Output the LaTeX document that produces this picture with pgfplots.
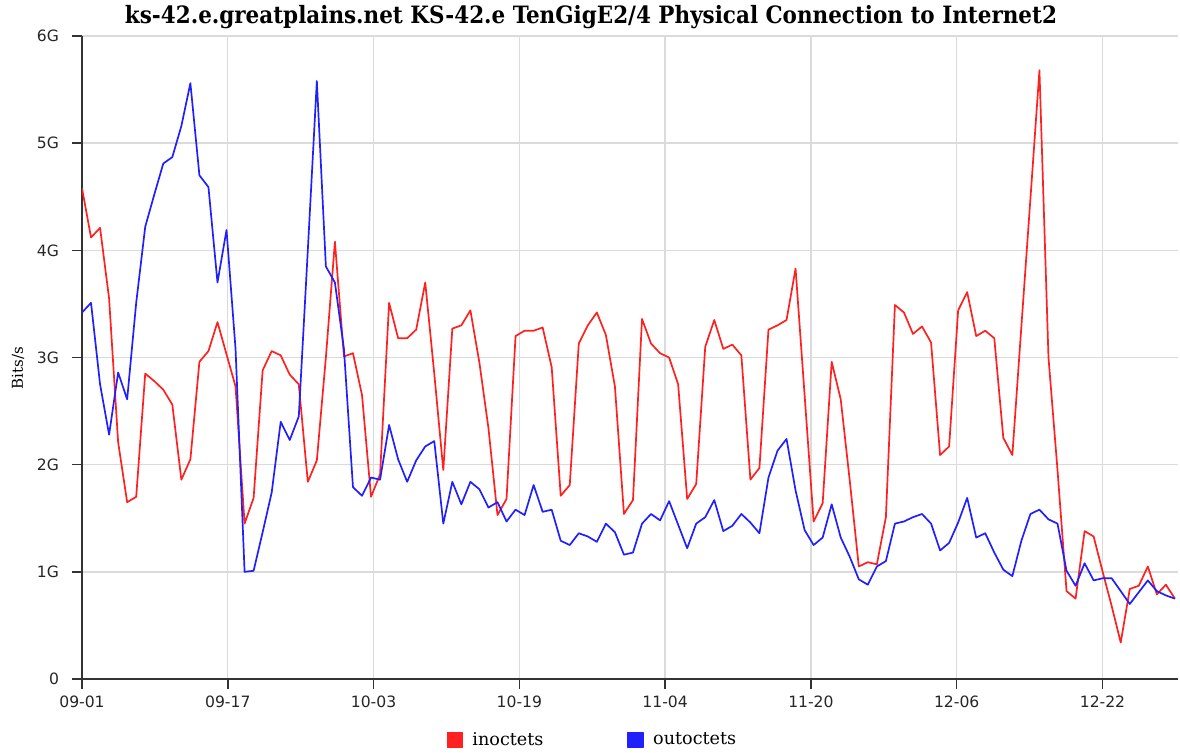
\documentclass[border=0pt]{standalone}
\usepackage{fontspec}
\usepackage{graphicx}
\usepackage{pgfplots}
\pgfplotsset{compat=1.18}
\usepackage{pgfplotstable}
\setmainfont{DejaVu Sans}
\newfontfamily\titlefont{DejaVu Serif Condensed}
\newfontfamily\labfont{DejaVu Serif}
\definecolor{inred}{RGB}{255,32,32}
\definecolor{outblue}{RGB}{32,32,255}

\pgfplotstableread{
d in out
0 4.58 3.42
1 4.12 3.51
2 4.21 2.75
3 3.55 2.28
4 2.21 2.86
5 1.65 2.61
6 1.70 3.51
7 2.85 4.22
8 2.78 4.52
9 2.70 4.81
10 2.56 4.87
11 1.86 5.16
12 2.05 5.56
13 2.96 4.70
14 3.06 4.59
15 3.33 3.70
16 3.03 4.19
17 2.73 3.08
18 1.45 1.00
19 1.69 1.01
20 2.88 1.37
21 3.06 1.74
22 3.02 2.40
23 2.84 2.23
24 2.75 2.45
25 1.84 4.00
26 2.04 5.58
27 3.00 3.85
28 4.08 3.70
29 3.01 3.08
30 3.04 1.79
31 2.65 1.71
32 1.70 1.88
33 1.91 1.86
34 3.51 2.37
35 3.18 2.05
36 3.18 1.84
37 3.26 2.04
38 3.70 2.17
39 2.85 2.22
40 1.95 1.45
41 3.27 1.84
42 3.30 1.63
43 3.44 1.84
44 2.95 1.77
45 2.34 1.60
46 1.53 1.65
47 1.68 1.47
48 3.20 1.58
49 3.25 1.53
50 3.25 1.81
51 3.28 1.56
52 2.91 1.58
53 1.71 1.29
54 1.81 1.25
55 3.13 1.36
56 3.30 1.33
57 3.42 1.28
58 3.21 1.45
59 2.73 1.37
60 1.54 1.16
61 1.67 1.18
62 3.36 1.45
63 3.13 1.54
64 3.04 1.48
65 3.00 1.66
66 2.75 1.44
67 1.68 1.22
68 1.82 1.45
69 3.10 1.51
70 3.35 1.67
71 3.08 1.38
72 3.12 1.43
73 3.02 1.54
74 1.86 1.46
75 1.97 1.36
76 3.26 1.88
77 3.30 2.13
78 3.35 2.24
79 3.83 1.76
80 2.65 1.39
81 1.47 1.25
82 1.64 1.32
83 2.96 1.63
84 2.61 1.32
85 1.85 1.14
86 1.05 0.93
87 1.09 0.88
88 1.07 1.05
89 1.51 1.10
90 3.49 1.45
91 3.42 1.47
92 3.22 1.51
93 3.29 1.54
94 3.14 1.45
95 2.09 1.20
96 2.17 1.27
97 3.44 1.46
98 3.61 1.69
99 3.20 1.32
100 3.25 1.36
101 3.18 1.18
102 2.25 1.02
103 2.09 0.96
104 3.29 1.29
105 4.48 1.54
106 5.68 1.58
107 3.00 1.49
108 1.95 1.45
109 0.82 1.01
110 0.75 0.87
111 1.38 1.08
112 1.33 0.92
113 1.00 0.94
114 0.68 0.94
115 0.34 0.82
116 0.84 0.70
117 0.87 0.81
118 1.05 0.92
119 0.79 0.82
120 0.88 0.78
121 0.75 0.75
}\traffic

\begin{document}
\begin{tikzpicture}
\path[use as bounding box] (-41pt,-36.5pt) rectangle (549pt,339.5pt);
\begin{axis}[
  at={(0,0)}, anchor=south west,
  scale only axis, width=548pt, height=321.5pt,
  xmin=0, xmax=121.34, ymin=0, ymax=6,
  axis x line*=bottom, axis y line*=left,
  axis line style={draw=black!80, line width=0.75pt},
  xtick={0,16.14,32.28,48.42,64.56,80.70,96.84,112.98},
  xticklabels={09-01,09-17,10-03,10-19,11-04,11-20,12-06,12-22},
  ytick={0,1,2,3,4,5,6},
  yticklabels={0,1G,2G,3G,4G,5G,6G},
  /pgf/number format/assume math mode=true,
  tick label style={font=\fontsize{7.8}{9}\selectfont, text=black!85},
  xticklabel style={anchor=center, yshift=-6.5pt},
  yticklabel style={anchor=east, xshift=-3pt},
  grid=major,
  major grid style={draw=black!14, line width=0.7pt},
  tick style={draw=black!80, line width=0.75pt},
  major tick length=5pt,
  tick align=outside,
  legend columns=2,
  legend style={at={(0.4667,-0.095)}, anchor=center, draw=none, fill=none,
    font=\labfont\fontsize{8.8}{10}\selectfont,
    /tikz/every odd column/.append style={column sep=2.5pt},
    /tikz/every even column/.append style={column sep=40pt}},
  legend image code/.code={\fill[#1] (0pt,-3.75pt) rectangle (7.5pt,3.75pt);},
]
\addplot[color=inred, line width=0.85pt, line join=round] table[x=d, y=in] {\traffic};
\addlegendentry{inoctets}
\addplot[color=outblue, line width=0.85pt, line join=round] table[x=d, y=out] {\traffic};
\addlegendentry{outoctets}
\end{axis}
\node[font=\titlefont\bfseries\fontsize{11}{13}\selectfont, anchor=center] at (254.5pt,331pt)
  {\resizebox{466pt}{!}{ks-42.e.greatplains.net KS-42.e TenGigE2/4 Physical Connection to Internet2}};
\node[font=\labfont\fontsize{7.5}{9}\selectfont, rotate=90, anchor=center] at (-32pt,155.5pt) {Bits/s};
\end{tikzpicture}
\end{document}
